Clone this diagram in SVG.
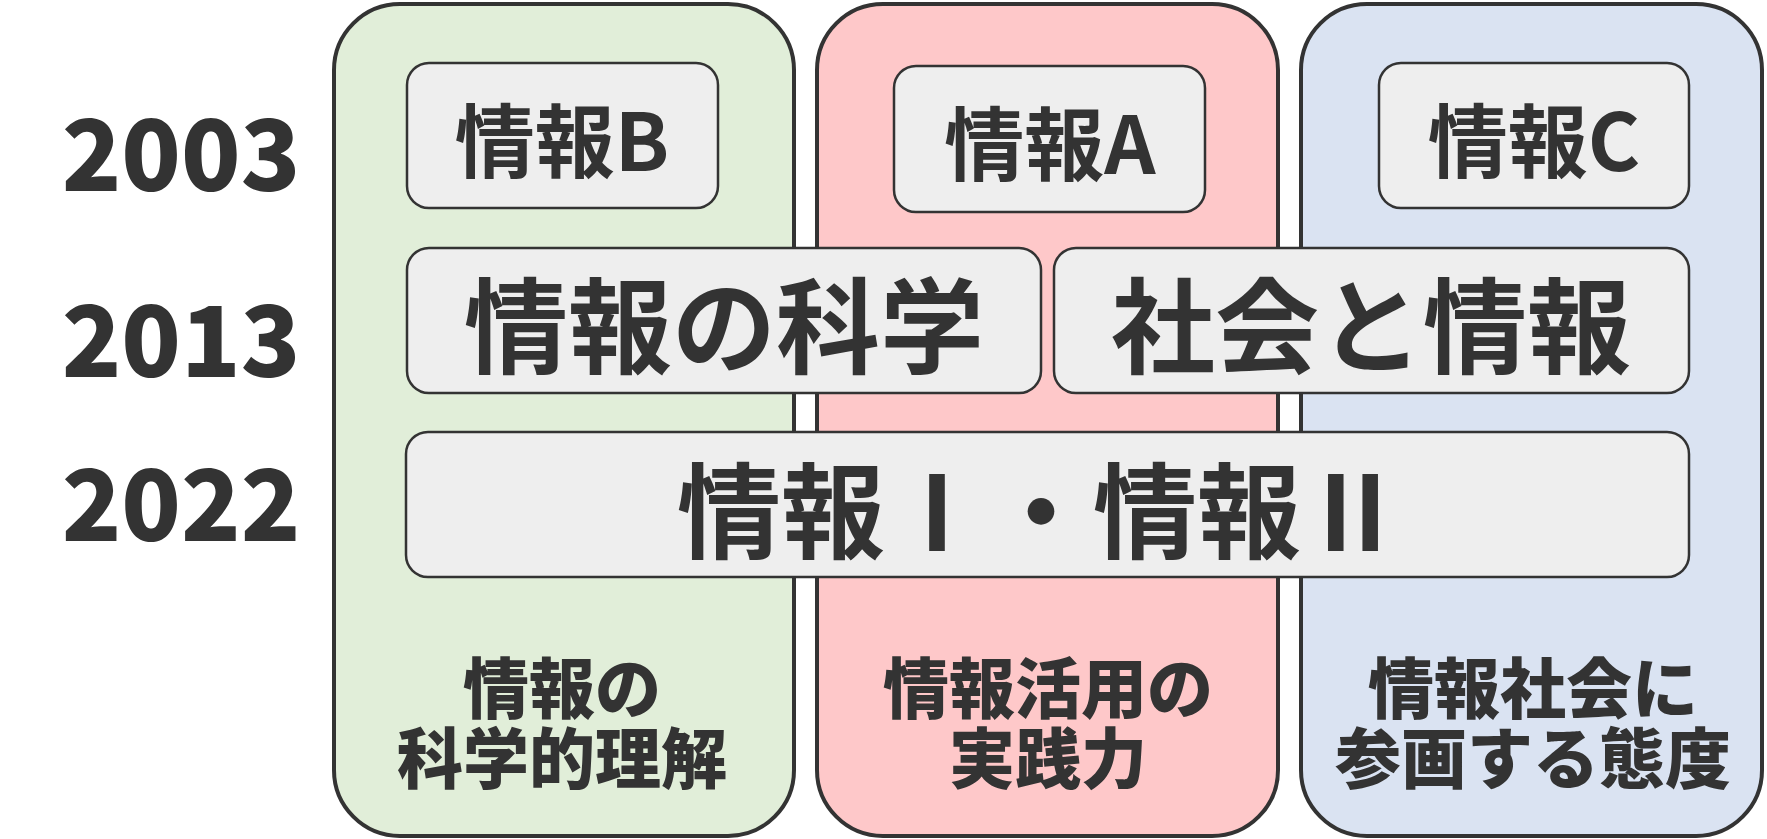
<svg xmlns="http://www.w3.org/2000/svg" width="1767" height="839" viewBox="0 0 1767 839">
<style>
.col{stroke:#333;stroke-width:4}
.box{fill:#eeeeee;stroke:#333;stroke-width:2.5}
text{font-family:"Noto Sans CJK JP","Noto Sans",sans-serif;font-weight:bold;fill:#333;text-anchor:middle;dominant-baseline:central}
.yr{font-size:98px;font-weight:900}
.lb{font-size:66px;font-weight:900}
</style>
<rect width="1767" height="839" fill="#fff"/>
<g id="col-green"><rect class="col" x="334" y="4" width="460" height="832" rx="66" fill="#e1eed9"/><text class="lb" x="562" y="684">情報の</text><text class="lb" x="562" y="754">科学的理解</text></g>
<g id="col-pink"><rect class="col" x="817" y="4" width="461" height="832" rx="66" fill="#fec8c9"/><text class="lb" x="1048" y="684">情報活用の</text><text class="lb" x="1048" y="754">実践力</text></g>
<g id="col-blue"><rect class="col" x="1301" y="4" width="461" height="832" rx="66" fill="#dae3f2"/><text class="lb" x="1533" y="684">情報社会に</text><text class="lb" x="1533" y="754">参画する態度</text></g>
<g id="years"><text class="yr" x="181" y="148">2003</text><text class="yr" x="181" y="334">2013</text><text class="yr" x="181" y="498">2022</text></g>
<g id="jB"><rect class="box" x="407" y="63" width="311" height="145" rx="22"/><text x="562" y="136" font-size="80">情報B</text></g>
<g id="jA"><rect class="box" x="894" y="66" width="311" height="146" rx="22"/><text x="1050" y="139" font-size="80">情報A</text></g>
<g id="jC"><rect class="box" x="1379" y="63" width="310" height="145" rx="22"/><text x="1534" y="136" font-size="80">情報C</text></g>
<g id="jsci"><rect class="box" x="407" y="248" width="634" height="145" rx="22"/><text x="724" y="320" font-size="104">情報の科学</text></g>
<g id="jsoc"><rect class="box" x="1054" y="248" width="635" height="145" rx="22"/><text x="1371" y="320" font-size="104">社会と情報</text></g>
<g id="j12"><rect class="box" x="406" y="432" width="1283" height="145" rx="22"/><text x="1041" y="505" font-size="104">情報Ⅰ・情報Ⅱ</text></g>
<g id="connectors"/>
</svg>
